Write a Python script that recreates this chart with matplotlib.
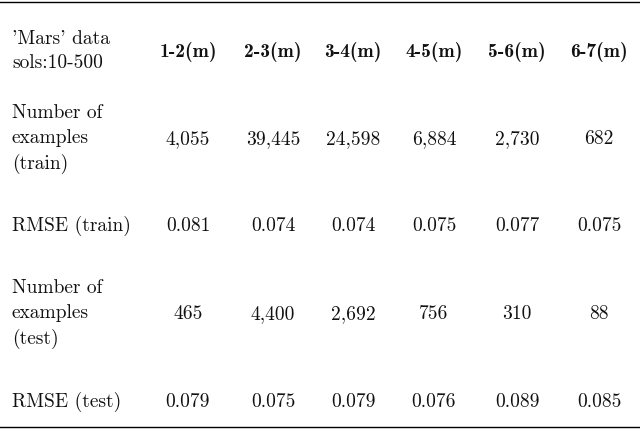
import matplotlib.pyplot as plt

col_headers = ["1-2(m)", "2-3(m)", "3-4(m)", "4-5(m)", "5-6(m)", "6-7(m)"]
row_labels = ["Number of\nexamples\n(train)", "RMSE (train)", "Number of\nexamples\n(test)", "RMSE (test)"]
values = [
    ["4,055", "39,445", "24,598", "6,884", "2,730", "682"],
    ["0.081", "0.074", "0.074", "0.075", "0.077", "0.075"],
    ["465", "4,400", "2,692", "756", "310", "88"],
    ["0.079", "0.075", "0.079", "0.076", "0.089", "0.085"],
]
corner = "'Mars' data\nsols:10-500"

col_x = [188, 273, 353, 434, 517, 599]
row_y = [139, 226, 314, 402]
header_y = 51

fig = plt.figure(figsize=(6.4, 4.29), dpi=100)
ax = fig.add_axes([0, 0, 1, 1])
ax.set_xlim(0, 640)
ax.set_ylim(429, 0)
ax.axis("off")

fs = 14
font = dict(family="cmr10", fontsize=fs, color="#111111")
bold = dict(family="cmb10", fontsize=fs, color="#111111")

ax.text(12, header_y, corner, ha="left", va="center", linespacing=1.45, **font)
for x, h in zip(col_x, col_headers):
    ax.text(x, header_y + 1, h, ha="center", va="center", **bold)

for y, lab, row in zip(row_y, row_labels, values):
    ax.text(12, y, lab, ha="left", va="center", linespacing=1.47, **font)
    for x, v in zip(col_x, row):
        ax.text(x, y, v, ha="center", va="center", **font)

ax.plot([0, 640], [2, 2], color="black", lw=1)
ax.plot([0, 640], [427, 427], color="black", lw=1)

fig.savefig("out.png", dpi=100)
